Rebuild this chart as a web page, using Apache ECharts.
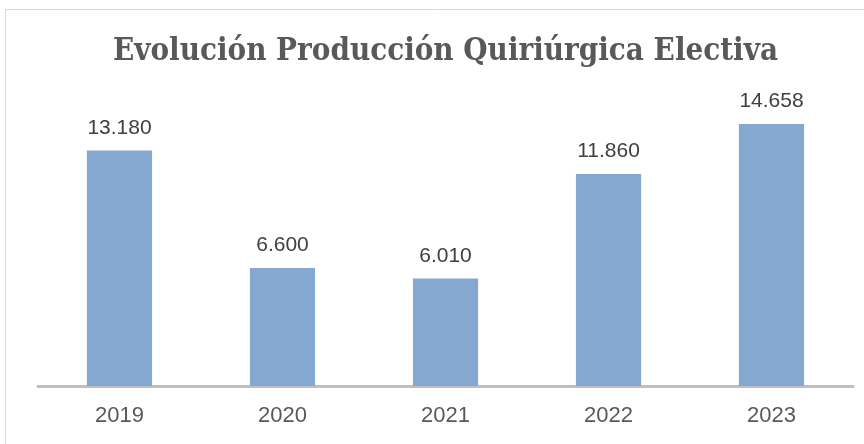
<!DOCTYPE html>
<html>
<head>
<meta charset="utf-8">
<script src="https://cdn.jsdelivr.net/npm/echarts@6/dist/echarts.min.js"></script>
<style>
  html, body { margin: 0; padding: 0; background: #fff; }
  #chart { width: 864px; height: 444px; }
</style>
</head>
<body>
<div id="chart"></div>
<script>
// Datos del gráfico
const years = ['2019', '2020', '2021', '2022', '2023'];
const cirugias = [13180, 6600, 6010, 11860, 14658];

// Separador de miles con punto
const fmt = (v) => String(v).replace(/\B(?=(\d{3})+(?!\d))/g, '.');

const chart = echarts.init(document.getElementById('chart'));

chart.setOption({
  animation: false,
  title: {
    text: 'Evolución Producción Quiriúrgica Electiva',
    left: 108,
    top: 31,
    textStyle: {
      fontFamily: 'DejaVu Serif Condensed',
      fontWeight: 'bold',
      fontSize: 31,
      color: '#595959',
    },
  },
  graphic: [
    {
      type: 'rect',
      shape: { x: 5.5, y: 9.5, width: 900, height: 500 },
      style: { fill: 'none', stroke: '#d9d9d9', lineWidth: 1 },
      silent: true,
    },
  ],
  grid: {
    left: 38,
    right: 11,
    top: 100,
    bottom: 58,
  },
  xAxis: {
    type: 'category',
    data: years,
    axisTick: { show: false },
    axisLine: { lineStyle: { color: '#bfbfbf', width: 3 } },
    axisLabel: {
      margin: 19,
      fontFamily: 'Liberation Sans',
      fontSize: 22,
      color: '#595959',
    },
  },
  yAxis: {
    type: 'value',
    min: 0,
    max: 16000,
    show: false,
    splitLine: { show: false },
  },
  series: [
    {
      type: 'bar',
      data: cirugias,
      barWidth: '40%',
      itemStyle: { color: '#85a8d0' },
      label: {
        show: true,
        position: 'top',
        distance: 12,
        formatter: (p) => fmt(p.value),
        fontFamily: 'Liberation Sans',
        fontSize: 21,
        color: '#404040',
      },
    },
  ],
});
</script>
</body>
</html>
